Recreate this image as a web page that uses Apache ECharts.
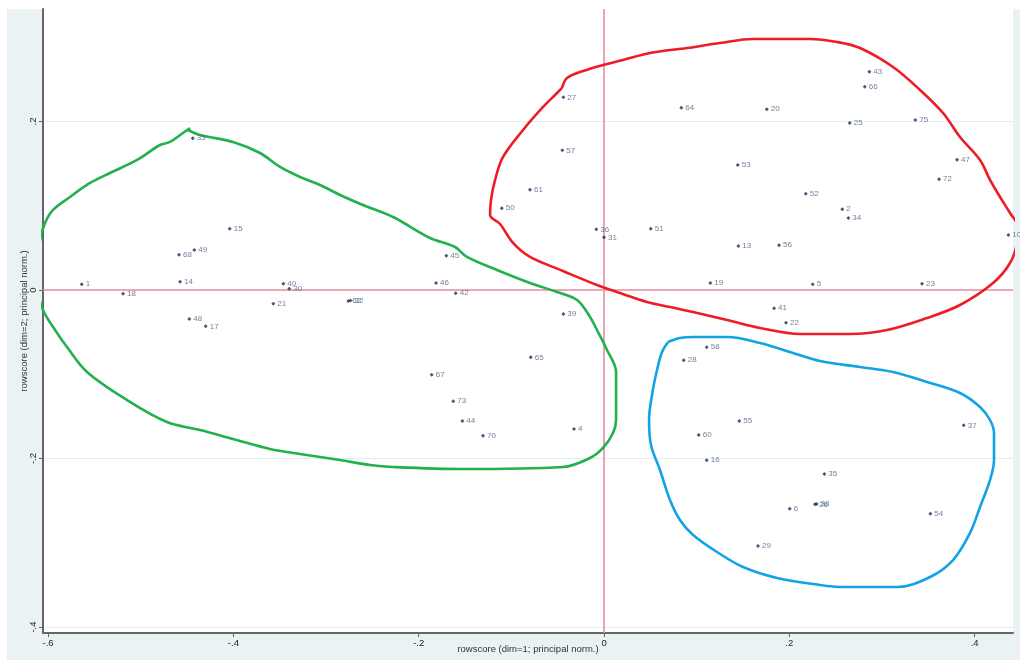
<!DOCTYPE html>
<html>
<head>
<meta charset="utf-8">
<title>Row scores, correspondence analysis</title>
<script src="https://cdn.jsdelivr.net/npm/echarts@6/dist/echarts.min.js"></script>
<style>
  html, body { margin: 0; padding: 0; background: #ffffff; }
  #frame { position: absolute; left: 7px; top: 9px; width: 1013px; height: 651px; background: #eaf2f3; }
  #chart { position: absolute; left: 0; top: 0; width: 1020px; height: 660px; }
</style>
</head>
<body>
<div id="frame"></div>
<div id="chart"></div>
<script>
// Row scores on dimension 1 (x) and dimension 2 (y), principal normalisation
const pointIds = ['1','2','4','5','6','10','13','14','15','16','17','18','19','20','21','22','23','25','26','38','27','28','29','30','31','62','32','33','34','35','36','37','39','40','41','42','43','44','45','46','47','48','49','50','51','52','53','54','55','56','57','58','60','61','64','65','66','67','68','70','72','73','75'];
const pointX = [-0.5637,0.2572,-0.0324,0.2253,0.2004,0.4364,0.1450,-0.4576,-0.4040,0.1108,-0.4299,-0.5191,0.1147,0.1756,-0.3569,0.1964,0.3432,0.2652,0.2277,0.2294,-0.0439,0.0860,0.1662,-0.3397,0.0000,-0.2760,-0.2736,-0.4439,0.2637,0.2378,-0.0083,0.3882,-0.0439,-0.3461,0.1835,-0.1601,0.2863,-0.1529,-0.1702,-0.1813,0.3810,-0.4476,-0.4422,-0.1104,0.0504,0.2177,0.1443,0.3522,0.1460,0.1889,-0.0450,0.1108,0.1022,-0.0799,0.0834,-0.0791,0.2814,-0.1860,-0.4587,-0.1306,0.3616,-0.1627,0.3360];
const pointY = [0.0068,0.0958,-0.1650,0.0068,-0.2596,0.0653,0.0522,0.0099,0.0728,-0.2021,-0.0431,-0.0044,0.0083,0.2145,-0.0163,-0.0388,0.0075,0.1982,-0.2544,-0.2540,0.2287,-0.0834,-0.3038,0.0015,0.0625,-0.0131,-0.0125,0.1801,0.0855,-0.2184,0.0720,-0.1606,-0.0285,0.0075,-0.0217,-0.0039,0.2591,-0.1555,0.0407,0.0083,0.1547,-0.0344,0.0475,0.0970,0.0728,0.1143,0.1484,-0.2655,-0.1555,0.0531,0.1658,-0.0680,-0.1721,0.1190,0.2164,-0.0799,0.2413,-0.1005,0.0419,-0.1729,0.1314,-0.1321,0.2018];

// Axis ticks
const xTicks = [-0.6, -0.4, -0.2, 0, 0.2, 0.4];
const yTicks = [-0.4, -0.2, 0, 0.2];
const yGridValues = [0.2, -0.2, -0.4];

// Hand-drawn group outlines, in score units
const greenOutline = [[-0.4490,0.1899],[-0.4360,0.1840],[-0.4004,0.1757],[-0.3713,0.1626],[-0.3497,0.1460],[-0.3281,0.1341],[-0.3065,0.1246],[-0.2849,0.1128],[-0.2601,0.1009],[-0.2277,0.0866],[-0.1878,0.0617],[-0.1608,0.0510],[-0.1479,0.0392],[-0.1155,0.0237],[-0.0799,0.0083],[-0.0507,-0.0024],[-0.0291,-0.0119],[-0.0151,-0.0320],[-0.0076,-0.0475],[0.0032,-0.0712],[0.0130,-0.0973],[0.0130,-0.1543],[0.0097,-0.1697],[-0.0011,-0.1875],[-0.0151,-0.1994],[-0.0443,-0.2101],[-0.1522,-0.2125],[-0.2277,-0.2101],[-0.2526,-0.2077],[-0.2849,-0.2018],[-0.3281,-0.1947],[-0.3605,-0.1887],[-0.4004,-0.1768],[-0.4360,-0.1662],[-0.4717,-0.1567],[-0.5148,-0.1306],[-0.5580,-0.0973],[-0.5796,-0.0677],[-0.5925,-0.0475],[-0.6055,-0.0237],[-0.6109,0.0000],[-0.6109,0.0273],[-0.6087,0.0593],[-0.6033,0.0795],[-0.5947,0.0950],[-0.5763,0.1104],[-0.5548,0.1270],[-0.5332,0.1389],[-0.5040,0.1543],[-0.4792,0.1721],[-0.4684,0.1757],[-0.4544,0.1863],[-0.4468,0.1923]];
const redOutline = [[-0.0453,0.2398],[-0.0399,0.2516],[-0.0227,0.2599],[-0.0011,0.2671],[0.0205,0.2730],[0.0496,0.2813],[0.0896,0.2872],[0.1252,0.2932],[0.1608,0.2979],[0.2223,0.2979],[0.2515,0.2944],[0.2763,0.2872],[0.3119,0.2647],[0.3411,0.2374],[0.3659,0.2101],[0.3842,0.1816],[0.4058,0.1543],[0.4166,0.1306],[0.4274,0.1104],[0.4382,0.0914],[0.4468,0.0748],[0.4457,0.0558],[0.4382,0.0320],[0.4199,0.0083],[0.3842,-0.0178],[0.3486,-0.0332],[0.3054,-0.0475],[0.2655,-0.0522],[0.2115,-0.0522],[0.1684,-0.0451],[0.1328,-0.0356],[0.0961,-0.0261],[0.0712,-0.0202],[0.0464,-0.0142],[0.0173,-0.0036],[-0.0076,0.0059],[-0.0443,0.0226],[-0.0799,0.0392],[-0.0982,0.0558],[-0.1122,0.0783],[-0.1230,0.0890],[-0.1220,0.1068],[-0.1176,0.1306],[-0.1090,0.1579],[-0.0874,0.1899],[-0.0658,0.2172],[-0.0529,0.2314],[-0.0453,0.2398]];
const blueOutline = [[0.0691,-0.0617],[0.0820,-0.0570],[0.0961,-0.0558],[0.1328,-0.0558],[0.1684,-0.0629],[0.2040,-0.0748],[0.2331,-0.0843],[0.2763,-0.0914],[0.3119,-0.0973],[0.3486,-0.1092],[0.3842,-0.1223],[0.4058,-0.1389],[0.4166,-0.1543],[0.4209,-0.1697],[0.4209,-0.2018],[0.4166,-0.2255],[0.4058,-0.2576],[0.3950,-0.2884],[0.3767,-0.3205],[0.3519,-0.3406],[0.3162,-0.3525],[0.2580,-0.3525],[0.2331,-0.3501],[0.1867,-0.3418],[0.1500,-0.3288],[0.1220,-0.3110],[0.0961,-0.2908],[0.0820,-0.2730],[0.0712,-0.2492],[0.0604,-0.2136],[0.0507,-0.1840],[0.0486,-0.1543],[0.0518,-0.1246],[0.0572,-0.0950],[0.0626,-0.0736],[0.0691,-0.0617]];

const FONT = 'Liberation Sans, Arial, sans-serif';

// Stata-style tick label: drop the leading zero
function stataFmt(v) {
  if (Math.abs(v) < 1e-9) return '0';
  const s = String(Math.round(Math.abs(v) * 1000) / 1000).replace(/^0/, '');
  return (v < 0 ? '-' : '') + s;
}

function outlineSeries(points, color) {
  return {
    type: 'line',
    data: points,
    smooth: 0.35,
    showSymbol: false,
    symbol: 'none',
    clip: false,
    silent: true,
    z: 3,
    lineStyle: { color: color, width: 2.6 }
  };
}

const scatterData = pointIds.map((id, i) => ({ name: id, value: [pointX[i], pointY[i]] }));

const chart = echarts.init(document.getElementById('chart'), null, { renderer: 'canvas' });
chart.setOption({
  animation: false,
  backgroundColor: 'transparent',
  grid: {
    left: 43, right: 7, top: 9, bottom: 27,
    containLabel: false,
    outerBoundsMode: 'none',
    show: true, backgroundColor: '#ffffff', borderWidth: 0
  },
  xAxis: {
    type: 'value',
    min: -0.6055, max: 0.4414,
    name: 'rowscore (dim=1; principal norm.)',
    nameLocation: 'middle',
    nameGap: 11,
    nameMoveOverlap: false,
    nameTextStyle: { fontFamily: FONT, fontSize: 9.5, color: '#333' },
    axisLine: { show: true, onZero: false, lineStyle: { color: '#666', width: 2 } },
    axisTick: { show: true, length: 4, customValues: xTicks, lineStyle: { color: '#666', width: 1 } },
    axisLabel: { customValues: xTicks, formatter: stataFmt, fontFamily: FONT, fontSize: 9.5, color: '#222', margin: 5 },
    splitLine: { show: false }
  },
  yAxis: {
    type: 'value',
    min: -0.4071, max: 0.3335,
    name: 'rowscore (dim=2; principal norm.)',
    nameLocation: 'middle',
    nameRotate: 90,
    nameGap: 14,
    nameMoveOverlap: false,
    nameTextStyle: { fontFamily: FONT, fontSize: 9.5, color: '#333' },
    axisLine: { show: true, onZero: false, lineStyle: { color: '#666', width: 2 } },
    axisTick: { show: true, length: 4, customValues: yTicks, lineStyle: { color: '#666', width: 1 } },
    axisLabel: { customValues: yTicks, formatter: stataFmt, rotate: 90, fontFamily: FONT, fontSize: 9.5, color: '#222', margin: 5 },
    splitLine: { show: false }
  },
  series: [
    {
      // faint horizontal grid lines
      type: 'line',
      data: [],
      silent: true,
      z: 0,
      markLine: {
        silent: true, symbol: 'none', label: { show: false }, z: 0,
        lineStyle: { color: '#e4eef0', width: 1, type: 'solid' },
        data: yGridValues.map(v => ({ yAxis: v }))
      }
    },
    {
      // reference lines through the origin
      type: 'line',
      data: [],
      silent: true,
      z: 1,
      markLine: {
        silent: true, symbol: 'none', label: { show: false }, z: 1,
        lineStyle: { color: '#e48ca0', width: 1.6, type: 'solid' },
        data: [{ xAxis: 0 }, { yAxis: 0 }]
      }
    },
    {
      type: 'scatter',
      data: scatterData,
      symbol: 'diamond',
      symbolSize: 4,
      z: 4,
      itemStyle: { color: '#1b2d4f' },
      label: {
        show: true, position: 'right', distance: 2,
        formatter: p => p.name,
        fontFamily: FONT, fontSize: 8, color: '#4f6285'
      },
      labelLayout: { hideOverlap: false }
    },
    outlineSeries(greenOutline, '#22b14c'),
    outlineSeries(redOutline, '#ee1c24'),
    outlineSeries(blueOutline, '#12a3e6')
  ]
});
</script>
</body>
</html>
